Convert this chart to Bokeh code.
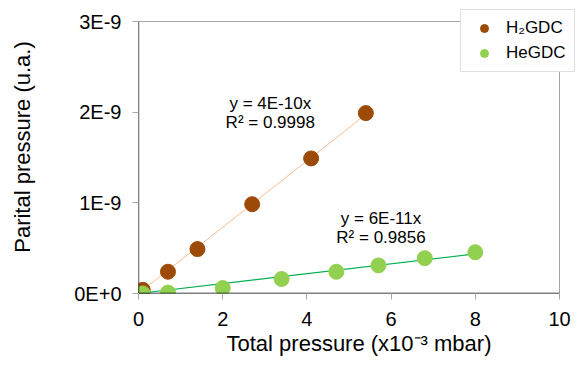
from bokeh.plotting import figure
from bokeh.models import FixedTicker, CustomJSTickFormatter, Legend, LegendItem, Range1d
from bokeh.embed import file_html
from bokeh.resources import INLINE
from bokeh.core.properties import value

# Data (total pressure in x1e-3 mbar, partial pressure in u.a.)
h2_x = [0.1, 0.7, 1.4, 2.7, 4.1, 5.4]
h2_y = [0.04e-9, 0.24e-9, 0.49e-9, 0.985e-9, 1.49e-9, 1.99e-9]
he_x = [0.1, 0.7, 2.0, 3.4, 4.7, 5.7, 6.8, 8.0]
he_y = [0.0, 0.01e-9, 0.06e-9, 0.16e-9, 0.24e-9, 0.31e-9, 0.39e-9, 0.455e-9]

x_ticks = [0, 2, 4, 6, 8, 10]
y_ticks = [0, 1e-9, 2e-9, 3e-9]

h2_eq = ["y = 4E-10x", "R² = 0.9998"]
he_eq = ["y = 6E-11x", "R² = 0.9856"]

def fit_origin(xs, ys):
    return sum(a * b for a, b in zip(xs, ys)) / sum(a * a for a in xs)

k_h2 = fit_origin(h2_x, h2_y)
k_he = fit_origin(he_x, he_y)

FONT = "Liberation Sans"
BROWN = "#9C4A06"
BROWN_LINE = "#F6BD93"
GREEN = "#92D050"
GREEN_LINE = "#00B050"
FRAME = "#A6A6A6"

W, H = 579, 359
LEFT, RIGHT_PX, TOP, BOTTOM = 138, 559, 21, 293   # plot box in pixels
px_per_x = (RIGHT_PX - LEFT) / x_ticks[-1]
px_per_y = (BOTTOM - TOP) / y_ticks[-1]
x_end = (W - LEFT) / px_per_x
y_end = BOTTOM / px_per_y

p = figure(width=W, height=H, output_backend="svg", toolbar_location=None,
           x_range=Range1d(0, x_end), y_range=Range1d(0, y_end),
           min_border_left=LEFT, min_border_right=0, min_border_top=0,
           min_border_bottom=H - BOTTOM)
p.grid.visible = False
p.background_fill_color = "white"
p.border_fill_color = "white"
p.outline_line_color = None

# plot box: gray top/right, black left/bottom
p.line([0, x_ticks[-1]], [y_ticks[-1], y_ticks[-1]], line_color=FRAME, line_width=1)
p.line([x_ticks[-1], x_ticks[-1]], [0, y_ticks[-1]], line_color=FRAME, line_width=1)

# trend lines
p.line([h2_x[0], h2_x[-1]], [k_h2 * h2_x[0], k_h2 * h2_x[-1]], line_color=BROWN_LINE, line_width=1)
p.line([he_x[0], he_x[-1]], [k_he * he_x[0], k_he * he_x[-1]], line_color=GREEN_LINE, line_width=1.2)

r1 = p.scatter(h2_x, h2_y, size=15, fill_color=BROWN, line_color=BROWN)
r2 = p.scatter(he_x, he_y, size=15, fill_color=GREEN, line_color=GREEN)

p.line([0, x_ticks[-1]], [0, 0], line_color="black", line_width=1.3)
p.line([0, 0], [0, y_ticks[-1]], line_color="black", line_width=1.3)

# equation labels
p.text(x=[3.13, 3.13], y=[2.10e-9, 1.885e-9], text=h2_eq, text_align="center",
       text_baseline="middle", text_font=value(FONT), text_font_size="17px", text_color="black")
p.text(x=[5.76, 5.76], y=[0.83e-9, 0.62e-9], text=he_eq, text_align="center",
       text_baseline="middle", text_font=value(FONT), text_font_size="17px", text_color="black")

for ax in (p.xaxis[0], p.yaxis[0]):
    ax.axis_line_color = None
    ax.major_tick_line_color = FRAME
    ax.major_tick_out = 6
    ax.major_tick_in = 0
    ax.minor_tick_line_color = None
    ax.major_label_text_font = FONT
    ax.major_label_text_font_size = "20px"
    ax.major_label_text_color = "black"
    ax.axis_label_text_font = FONT
    ax.axis_label_text_font_size = "22px"
    ax.axis_label_text_font_style = "normal"
    ax.axis_label_text_color = "black"

p.xaxis.ticker = FixedTicker(ticks=x_ticks)
p.yaxis.ticker = FixedTicker(ticks=y_ticks)
p.yaxis.formatter = CustomJSTickFormatter(code="return tick.toExponential(0).toUpperCase();")
p.xaxis.major_label_standoff = 12
p.yaxis.major_label_standoff = 11
p.xaxis.axis_label = "Total pressure (x10⁻³ mbar)"
p.yaxis.axis_label = "Parital pressure (u.a.)"
p.xaxis.axis_label_standoff = 2
p.yaxis.axis_label_standoff = 36

legend = Legend(items=[LegendItem(label="H₂GDC", renderers=[r1]),
                       LegendItem(label="HeGDC", renderers=[r2])],
                location=(460 - LEFT, BOTTOM - 72))
legend.label_text_font = FONT
legend.label_text_font_size = "17px"
legend.label_text_color = "black"
legend.border_line_color = "#BFBFBF"
legend.background_fill_color = "white"
legend.background_fill_alpha = 1
legend.padding = 8
legend.spacing = 5
legend.glyph_width = 30
legend.glyph_height = 20
legend.label_height = 20
legend.label_standoff = 7
legend.margin = 0
p.add_layout(legend, "center")

open("out.html", "w").write(file_html(p, INLINE))
